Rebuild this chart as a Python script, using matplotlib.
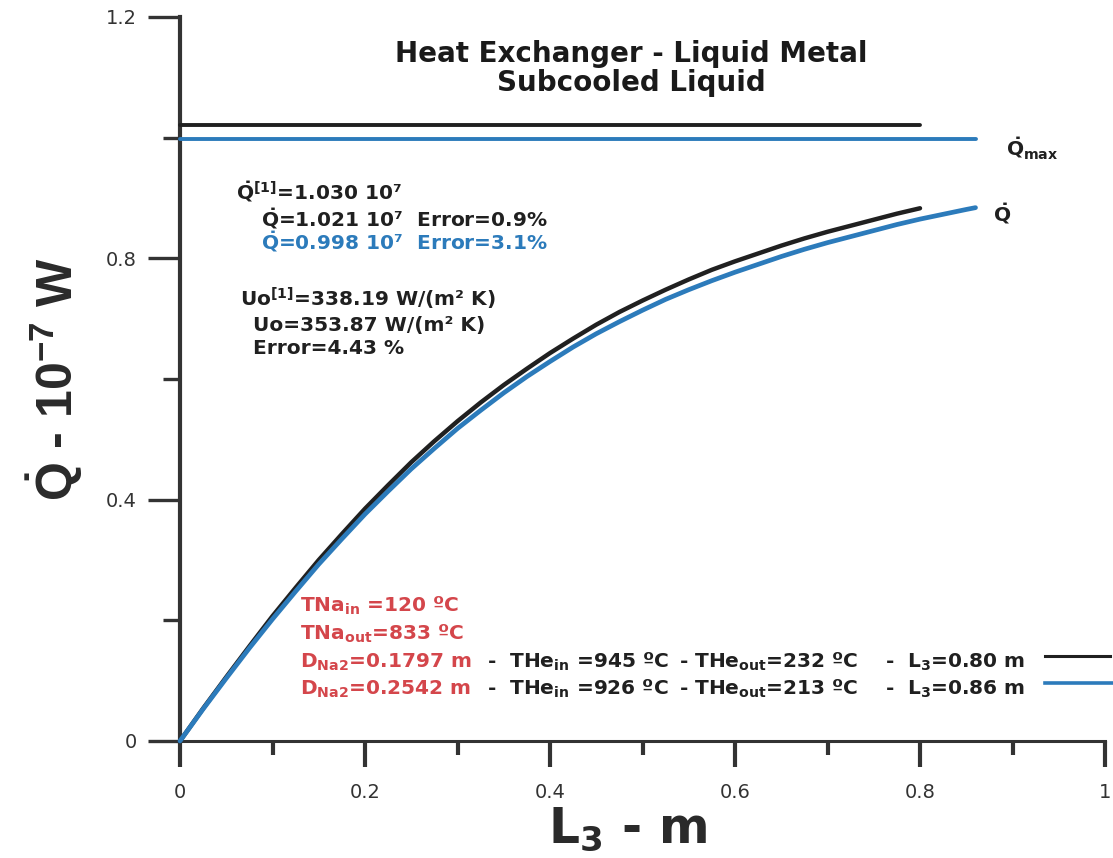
import matplotlib
matplotlib.use("Agg")
import matplotlib.pyplot as plt

# ---------------- data ----------------
L_black = [0.0, 0.025, 0.05, 0.075, 0.10, 0.125, 0.15, 0.175, 0.20, 0.225,
           0.25, 0.275, 0.30, 0.325, 0.35, 0.375, 0.40, 0.425, 0.45, 0.475,
           0.50, 0.525, 0.55, 0.575, 0.60, 0.625, 0.65, 0.675, 0.70, 0.725,
           0.75, 0.775, 0.80]
Q_black = [0.0, 0.054, 0.106, 0.157, 0.207, 0.254, 0.300, 0.343, 0.385, 0.424,
           0.462, 0.497, 0.530, 0.561, 0.590, 0.617, 0.643, 0.667, 0.690, 0.711,
           0.730, 0.748, 0.765, 0.781, 0.795, 0.808, 0.821, 0.833, 0.844, 0.854,
           0.864, 0.874, 0.883]

L_blue = [0.0, 0.025, 0.05, 0.075, 0.10, 0.125, 0.15, 0.175, 0.20, 0.225,
          0.25, 0.275, 0.30, 0.325, 0.35, 0.375, 0.40, 0.425, 0.45, 0.475,
          0.50, 0.525, 0.55, 0.575, 0.60, 0.625, 0.65, 0.675, 0.70, 0.725,
          0.75, 0.775, 0.80, 0.825, 0.85, 0.86]
Q_blue = [0.0, 0.053, 0.104, 0.154, 0.202, 0.248, 0.293, 0.335, 0.376, 0.414,
          0.451, 0.485, 0.518, 0.548, 0.577, 0.604, 0.629, 0.653, 0.675, 0.695,
          0.714, 0.732, 0.748, 0.763, 0.777, 0.790, 0.803, 0.815, 0.826, 0.836,
          0.846, 0.856, 0.865, 0.873, 0.881, 0.884]

Qmax_black = 1.021
Qmax_blue = 0.998
Lend_black = 0.80
Lend_blue = 0.86

x_major = [0, 0.2, 0.4, 0.6, 0.8, 1.0]
x_major_labels = ["0", "0.2", "0.4", "0.6", "0.8", "1"]
x_minor = [0.1, 0.3, 0.5, 0.7, 0.9]
y_major = [0, 0.4, 0.8, 1.2]
y_major_labels = ["0", "0.4", "0.8", "1.2"]
y_minor = [0.2, 0.6, 1.0]

BLACK = "#202020"
BLUE = "#2c7bbb"
RED = "#d4464b"
AX = "#333333"

plt.rcParams["font.family"] = ["DejaVu Sans"]
plt.rcParams["mathtext.fontset"] = "dejavusans"
plt.rcParams["mathtext.default"] = "bf"
plt.rcParams["mathtext.bf"] = "Liberation Sans:bold"
plt.rcParams["mathtext.rm"] = "Liberation Sans"
plt.rcParams["mathtext.it"] = "Liberation Sans:italic"
plt.rcParams["mathtext.sf"] = "Liberation Sans"

W, H = 1113, 858
fig = plt.figure(figsize=(W / 100, H / 100), dpi=100)
fig.patch.set_facecolor("white")

ax = fig.add_axes([180 / W, 117 / H, 925 / W, 724 / H])
ax.set_xlim(0, 1)
ax.set_ylim(0, 1.2)
for s in ("top", "right"):
    ax.spines[s].set_visible(False)
ax.spines["left"].set_linewidth(3.0)
ax.spines["bottom"].set_linewidth(2.2)
ax.spines["left"].set_color(AX)
ax.spines["bottom"].set_color(AX)

ax.set_xticks(x_major)
ax.set_xticklabels(x_major_labels)
ax.set_xticks(x_minor, minor=True)
ax.set_yticks(y_major)
ax.set_yticklabels(y_major_labels)
ax.set_yticks(y_minor, minor=True)
ax.tick_params(axis="x", which="major", direction="out", length=19, width=3,
               color=AX, labelsize=14, labelcolor=AX, pad=11)
ax.tick_params(axis="x", which="minor", direction="out", length=10, width=3,
               color=AX)
ax.tick_params(axis="y", which="major", direction="out", length=23, width=2.4,
               color=AX, labelsize=14, labelcolor=AX, pad=8)
ax.tick_params(axis="y", which="minor", direction="out", length=12, width=2.4,
               color=AX)

# curves
ax.plot(L_black, Q_black, color=BLACK, lw=3.2, solid_capstyle="round",
        solid_joinstyle="round", clip_on=False, zorder=3)
ax.plot(L_blue, Q_blue, color=BLUE, lw=3.4, solid_capstyle="round",
        solid_joinstyle="round", clip_on=False, zorder=4)
# Qmax lines
ax.plot([0, Lend_black], [Qmax_black, Qmax_black], color=BLACK, lw=2.8,
        solid_capstyle="round", clip_on=False, zorder=3)
ax.plot([0, Lend_blue], [Qmax_blue, Qmax_blue], color=BLUE, lw=2.8,
        solid_capstyle="round", clip_on=False, zorder=3)


def dx(px):
    return (px - 180) / 925.0


def dy(py):
    return (741 - py) / (724 / 1.2)


# legend segments
ax.plot([dx(1045), dx(1110)], [dy(656), dy(656)], color=BLACK, lw=2.2,
        clip_on=False)
ax.plot([dx(1045), dx(1116)], [dy(683), dy(683)], color=BLUE, lw=2.6,
        clip_on=False)


def fx(px):
    return px / W


def fy(py):
    return 1 - py / H


def ftext(px, py, s, size=14.5, color=BLACK, **kw):
    kw.setdefault("ha", "left")
    kw.setdefault("va", "baseline")
    fig.text(fx(px), fy(py), s, fontsize=size, color=color,
             fontweight="bold", **kw)


# title
ftext(631, 62, "Heat Exchanger - Liquid Metal", size=20, ha="center",
      color="#1a1a1a")
ftext(631, 91, "Subcooled Liquid", size=20, ha="center", color="#1a1a1a")

# axis labels
fig.text(fx(55), fy(379), r"$\dot{Q}$ - 10$^{-7}$ W", rotation=90,
         ha="center", va="center", fontsize=36, fontweight="bold",
         color="#2a2a2a", family="Liberation Sans", math_fontfamily="custom")
ftext(628, 843, "L$_3$ - m", size=35, ha="center", color="#2a2a2a")

# Q annotations
ftext(236, 200, r"$\dot{Q}^{[1]}$=1.030 10⁷")
ftext(261, 226, r"$\dot{Q}$=1.021 10⁷  Error=0.9%")
ftext(261, 249, r"$\dot{Q}$=0.998 10⁷  Error=3.1%", color=BLUE)

# Uo annotations
ftext(240, 307, "Uo$^{[1]}$=338.19 W/(m² K)")
ftext(253, 331, "Uo=353.87 W/(m² K)")
ftext(253, 354, "Error=4.43 %")

# curve labels
ftext(1006, 157, r"$\dot{Q}_{max}$")
ftext(993, 221, r"$\dot{Q}$")

# red / black parameter lines
ftext(300, 612, "TNa$_{in}$ =120 ºC", color=RED)
ftext(300, 640, "TNa$_{out}$=833 ºC", color=RED)
ftext(300, 668, "D$_{Na2}$=0.1797 m", color=RED)
ftext(300, 695, "D$_{Na2}$=0.2542 m", color=RED)

ftext(487, 668, "-  THe$_{in}$ =945 ºC")
ftext(487, 695, "-  THe$_{in}$ =926 ºC")
ftext(679, 668, "- THe$_{out}$=232 ºC")
ftext(679, 695, "- THe$_{out}$=213 ºC")
ftext(885, 668, "-  L$_3$=0.80 m")
ftext(885, 695, "-  L$_3$=0.86 m")

fig.savefig("out.png", dpi=100, facecolor="white")
